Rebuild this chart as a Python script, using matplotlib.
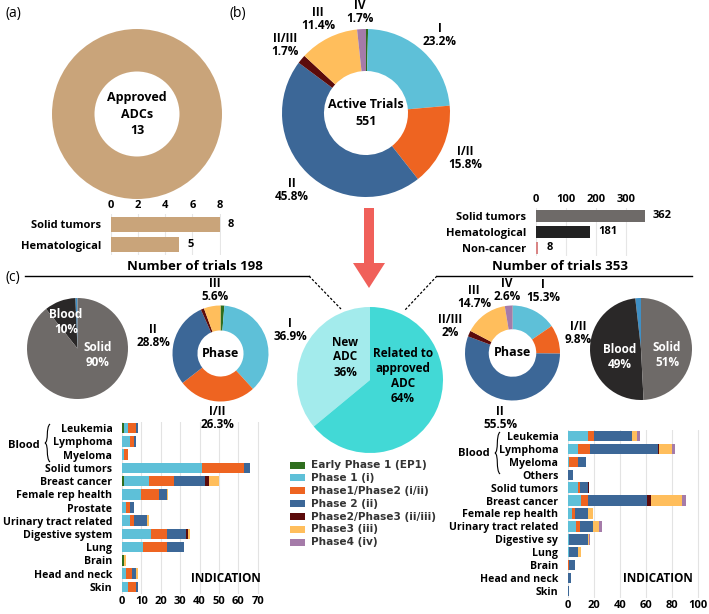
import matplotlib
matplotlib.use("Agg")
import matplotlib.pyplot as plt
import numpy as np
from matplotlib.patches import FancyArrow, Rectangle, PathPatch
from matplotlib.path import Path

plt.rcParams['font.family'] = ['Open Sans', 'DejaVu Sans']
plt.rcParams['font.weight'] = 'bold'

W, H = 709, 614

# ---------------- data ----------------
phase_names = ["Early Phase 1 (EP1)", "Phase 1 (i)", "Phase1/Phase2 (i/ii)", "Phase 2 (ii)",
               "Phase2/Phase3 (ii/iii)", "Phase3 (iii)", "Phase4 (iv)"]
phase_colors = ["#2F6E1E", "#5EC0D8", "#EE6421", "#3C6797", "#5C0B0B", "#FFBE5C", "#A57BA9"]

approved_total = 13
approved_types = ["Solid tumors", "Hematological"]
approved_counts = [8, 5]

active_total = 551
active_phase_pct = [0.4, 23.2, 15.8, 45.8, 1.7, 11.4, 1.7]
active_types = ["Solid tumors", "Hematological", "Non-cancer"]
active_counts = [362, 181, 8]
active_type_colors = ["#6E6A68", "#222222", "#D98585"]

adc_groups = ["New\nADC", "Related to\napproved\nADC"]
adc_pct = [36, 64]

split_names = ["Other", "Blood", "Solid"]
split_colors = ["#3F8FC4", "#2A2828", "#6E6A68"]

new_total = 198
new_phase_pct = [1.3, 36.9, 26.3, 28.8, 1.1, 5.6, 0.0]
new_split_pct = [0.7, 10, 89.3]

rel_total = 353
rel_phase_pct = [0.1, 15.3, 9.8, 55.5, 2.0, 14.7, 2.6]
rel_split_pct = [1.8, 49, 49.2]

new_ind = ["Leukemia", "Lymphoma", "Myeloma", "Solid tumors", "Breast cancer", "Female rep health",
           "Prostate", "Urinary tract related", "Digestive system", "Lung", "Brain",
           "Head and neck", "Skin"]
new_ep1 = [1, 0, 0, 0, 1, 0, 0, 0, 0, 0, 1, 0, 0]
new_p1 = [2, 4, 1, 41, 13, 10, 2, 4, 15, 11, 0, 2, 3]
new_p12 = [4, 2, 2, 22, 13, 9, 2, 2, 8, 12, 0, 3, 4]
new_p2 = [1, 1, 0, 3, 16, 4, 2, 7, 10, 9, 0, 2, 1]
new_p23 = [0, 0, 0, 0, 2, 0, 0, 0, 1, 0, 0, 0, 0]
new_p3 = [0, 0, 0, 0, 5, 0.5, 0, 1, 1, 0, 1, 1, 0]
new_p4 = [0, 0, 0, 0, 0, 0, 0, 0, 0, 0, 0, 0, 0]

rel_ind = ["Leukemia", "Lymphoma", "Myeloma", "Others", "Solid tumors", "Breast cancer",
           "Female rep health", "Urinary tract related", "Digestive sy", "Lung", "Brain",
           "Head and neck", "Skin"]
rel_ep1 = [0, 0, 0, 0, 0, 0, 0, 0, 0, 0, 0, 0, 0]
rel_p1 = [15, 8, 1, 0, 8, 10, 3, 6, 1, 1, 0, 0, 0]
rel_p12 = [5, 9, 7, 0, 1, 5, 2, 3, 0, 0, 1, 0, 0]
rel_p2 = [29, 52, 6, 4, 6, 46, 10, 10, 14, 7, 4, 2, 1]
rel_p23 = [0, 1, 0, 0, 1, 3, 0, 0, 0, 0, 0, 0, 0]
rel_p3 = [4, 10, 0, 0, 0, 24, 4, 5, 1, 2, 0, 0, 0]
rel_p4 = [2, 2, 0, 0, 0, 3, 0, 2, 1, 0, 0, 0, 0]

fig = plt.figure(figsize=(W / 100, H / 100), dpi=100)


def px_axes(left, top, width, height):
    return fig.add_axes([left / W, 1 - (top + height) / H, width / W, height / H])


def pie_axes(cx, cy, r):
    ax = px_axes(cx - r, cy - r, 2 * r, 2 * r)
    return ax


def finish_pie(ax):
    ax.set_xlim(-1, 1)
    ax.set_ylim(-1, 1)
    ax.axis('off')


def hbar(ax, names, counts, colors, xmax, ticks, top=True):
    y = np.arange(len(names))
    bars = ax.barh(y, counts, color=colors, height=0.72, zorder=2)
    ax.set_xlim(0, xmax)
    ax.set_ylim(len(names) - 0.5, -0.5)
    ax.set_xticks(ticks)
    ax.set_yticks(y, names)
    if top:
        ax.xaxis.tick_top()
    ax.tick_params(length=0, labelsize=8, pad=2)
    ax.tick_params(axis='y', pad=7)
    ax.grid(axis='x', color='#E6E6E6', lw=0.8, zorder=0)
    for s in ax.spines.values():
        s.set_visible(False)
    ax.bar_label(bars, padding=6, fontsize=8, fontweight='bold')
    return ax


def stacked(ax, names, series, xmax, ticks):
    y = np.arange(len(names))
    left = np.zeros(len(names))
    for vals, c in zip(series, phase_colors):
        vals = np.array(vals, dtype=float)
        ax.barh(y, vals, left=left, color=c, height=0.8, zorder=2)
        left += vals
    ax.set_xlim(0, xmax)
    ax.set_ylim(len(names) - 0.5, -0.5)
    ax.set_xticks(ticks)
    ax.set_yticks(y, names)
    ax.tick_params(length=0, labelsize=8, pad=2)
    ax.tick_params(axis='y', pad=7, labelsize=7.6)
    ax.grid(axis='x', color='#E3E3E3', lw=0.8, zorder=0)
    for s in ax.spines.values():
        s.set_visible(False)


# (a) approved donut
ax = pie_axes(137, 114, 85)
ax.pie([approved_total], colors=["#C9A47A"], startangle=90, wedgeprops=dict(width=0.5))
finish_pie(ax)

ax = px_axes(111, 214, 110, 41)
hbar(ax, approved_types, approved_counts, "#C9A47A", 8.1, [0, 2, 4, 6, 8])

# (b) active trials donut
ax = pie_axes(366, 113, 84)
ax.pie(active_phase_pct, colors=phase_colors, startangle=90, counterclock=False,
       wedgeprops=dict(width=0.5))
finish_pie(ax)

ax = px_axes(536, 208, 114, 48)
hbar(ax, active_types, active_counts, active_type_colors, 380, [0, 100, 200, 300])

# (c) pies
ax = pie_axes(77.5, 348.5, 50.5)
ax.pie(new_split_pct, colors=split_colors, startangle=90)
finish_pie(ax)

ax = pie_axes(220.5, 353.5, 48)
ax.pie(new_phase_pct, colors=phase_colors, startangle=90, counterclock=False,
       wedgeprops=dict(width=0.52))
finish_pie(ax)

ax = pie_axes(370, 380, 73)
ax.pie(adc_pct, colors=["#A3EBEC", "#42D9D6"], startangle=90)
finish_pie(ax)

ax = pie_axes(512.5, 353, 47.5)
ax.pie(rel_phase_pct, colors=phase_colors, startangle=90, counterclock=False,
       wedgeprops=dict(width=0.5))
finish_pie(ax)

ax = pie_axes(641, 349, 51)
ax.pie(rel_split_pct, colors=split_colors, startangle=90)
finish_pie(ax)

# (c) indication bars
ax = px_axes(122, 421.5, 140, 172)
stacked(ax, new_ind, [new_ep1, new_p1, new_p12, new_p2, new_p23, new_p3, new_p4],
        72.2, [0, 10, 20, 30, 40, 50, 60, 70])

ax = px_axes(568, 429.5, 136, 168)
stacked(ax, rel_ind, [rel_ep1, rel_p1, rel_p12, rel_p2, rel_p23, rel_p3, rel_p4],
        104.6, [0, 20, 40, 60, 80, 100])

# ---------------- overlay in pixel coordinates ----------------
ov = fig.add_axes([0, 0, 1, 1])
ov.set_zorder(10)
ov.set_xlim(0, W)
ov.set_ylim(H, 0)
ov.axis('off')


def label(x, y, s, size=8.5, color='black', ls=0.95, **kw):
    ov.text(x, y, s, ha='center', va='center', fontsize=size, color=color,
            linespacing=ls, fontweight='bold', **kw)


for x, y, s in [(5, 14, "(a)"), (230, 14, "(b)"), (5, 277, "(c)")]:
    ov.text(x, y, s, ha='left', va='center', fontsize=10, fontweight='normal')

label(137, 114, f"Approved\nADCs\n{approved_total}", size=9, ls=1.35)
label(366, 113, f"Active Trials\n{active_total}", size=9, ls=1.4)

for s, x, y in [("I\n23.2%", 440, 35), ("I/II\n15.8%", 465, 158), ("II\n45.8%", 292, 190),
                ("II/III\n1.7%", 285, 45), ("III\n11.4%", 318, 19), ("IV\n1.7%", 360, 12)]:
    label(x, y, s)

ov.add_patch(FancyArrow(369, 208, 0, 80, width=10, head_width=32, head_length=25,
                        length_includes_head=True, color="#F0605A", lw=0))

ov.plot([25, 309], [276, 276], color='black', lw=1)
ov.plot([309, 341], [276, 309], color='black', lw=0.9, ls=(0, (2, 1.5)))
ov.plot([437, 692], [276, 276], color='black', lw=1)
ov.plot([437, 405], [276, 310], color='black', lw=0.9, ls=(0, (2, 1.5)))
label(195, 266, f"Number of trials {new_total}", size=9.5)
label(560, 267, f"Number of trials {rel_total}", size=9.5)

label(66, 322, "Blood\n10%", color='white', ls=1.25)
label(98, 355, "Solid\n90%", color='white', ls=1.15)
label(620, 357, "Blood\n49%", color='white', ls=1.2)
label(667, 355, "Solid\n51%", color='white', ls=1.15)
label(220.5, 353.5, "Phase", size=9)
label(512.5, 353, "Phase", size=9)

for s, x, y in [("III\n5.6%", 215, 290), ("II\n28.8%", 153, 336), ("I/II\n26.3%", 217, 418),
                ("I\n36.9%", 290, 330), ("III\n14.7%", 474, 297), ("IV\n2.6%", 507, 290),
                ("I\n15.3%", 543, 291), ("I/II\n9.8%", 578, 333), ("II\n55.5%", 500, 418),
                ("II/III\n2%", 450, 326)]:
    label(x, y, s)

label(345, 357, f"{adc_groups[0]}\n{adc_pct[0]}%", size=8.5, ls=1.2)
label(403, 376, f"{adc_groups[1]}\n{adc_pct[1]}%", size=8.5, ls=1.2)

label(24, 445, "Blood", size=8)
label(474, 454, "Blood", size=8)
label(226, 578, "INDICATION")
label(658, 578, "INDICATION")


def brace(x, y0, y1, depth):
    ym = (y0 + y1) / 2
    verts = [(x, y0), (x - depth * 0.9, y0 + 4), (x - depth * 0.2, ym - 2), (x - depth, ym),
             (x - depth * 0.2, ym + 2), (x - depth * 0.9, y1 - 4), (x, y1)]
    codes = [Path.MOVETO, Path.CURVE4, Path.CURVE4, Path.CURVE4, Path.CURVE4, Path.CURVE4, Path.CURVE4]
    ov.add_patch(PathPatch(Path(verts, codes), fill=False, lw=0.8, color='black'))


brace(50, 424, 462, 5)
brace(500, 432, 474, 5)

# legend
for i, (name, c) in enumerate(zip(phase_names, phase_colors)):
    y = 465 + i * 12.9
    ov.add_patch(Rectangle((290, y - 3.5), 15, 7, color=c, lw=0))
    ov.text(311, y, name, ha='left', va='center', fontsize=7.6, color='#333333',
            family='DejaVu Sans', fontweight='bold')

fig.savefig("out.png", dpi=100)
